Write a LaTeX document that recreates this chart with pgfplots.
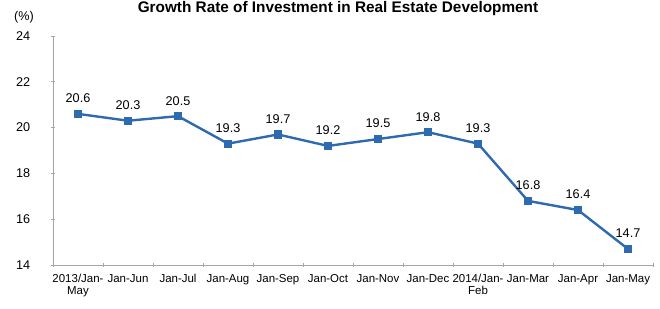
\documentclass[border=0pt]{standalone}
\usepackage{pgfplots}
\pgfplotsset{compat=1.18}
\usepackage{fontspec}
\setmainfont{Liberation Sans}
\definecolor{lineblue}{RGB}{46,106,176}
\definecolor{axgray}{RGB}{165,165,165}
\begin{document}
\begin{tikzpicture}
\begin{axis}[
  at={(0,0)}, anchor=south west,
  scale only axis,
  width=450pt, height=171.75pt,
  xmin=-0.5, xmax=11.5,
  ymin=14, ymax=24,
  ytick={14,16,18,20,22,24},
  axis x line=bottom, axis y line=left,
  axis line style={-, draw=axgray, line width=0.6pt},
  xtick={0,...,11},
  xticklabels={{2013/Jan-\\May},Jan-Jun,Jan-Jul,Jan-Aug,Jan-Sep,Jan-Oct,Jan-Nov,Jan-Dec,{2014/Jan-\\Feb},Jan-Mar,Jan-Apr,Jan-May},
  xticklabel style={align=center, font=\fontsize{8.6}{9}\selectfont, anchor=north, yshift=-2pt},
  major x tick style={draw=none},
  minor xtick={-0.5,0.5,...,11.5},
  minor tick length=3pt,
  minor x tick style={draw=axgray, line width=0.5pt},
  major tick length=3pt,
  major y tick style={draw=axgray, line width=0.5pt},
  yticklabel style={font=\fontsize{9.5}{10}\selectfont, xshift=-12pt},
  /pgf/number format/assume math mode=true,
  clip=false,
  nodes near coords,
  nodes near coords style={font=\fontsize{9.5}{10}\selectfont, anchor=south, yshift=4pt, text=black},
  point meta=explicit symbolic,
]
\addplot[color=lineblue, line width=1.8pt, mark=square*, mark size=2.2pt, mark options={solid}]
coordinates {
(0,20.6) [20.6]
(1,20.3) [20.3]
(2,20.5) [20.5]
(3,19.3) [19.3]
(4,19.7) [19.7]
(5,19.2) [19.2]
(6,19.5) [19.5]
(7,19.8) [19.8]
(8,19.3) [19.3]
(9,16.8) [16.8]
(10,16.4) [16.4]
(11,14.7) [14.7]
};
\node[font=\fontsize{9.5}{10}\selectfont] at (rel axis cs:0,1) [xshift=-21.75pt, yshift=14.25pt] {(\%)};
\end{axis}
\node[font=\bfseries\fontsize{11.5}{12}\selectfont, anchor=base] at (213.75pt,189.5pt) {Growth Rate of Investment in Real Estate Development};
\pgfresetboundingbox
\path[use as bounding box] (-39.75pt,-32.25pt) rectangle (455.25pt,198.75pt);
\end{tikzpicture}
\end{document}
